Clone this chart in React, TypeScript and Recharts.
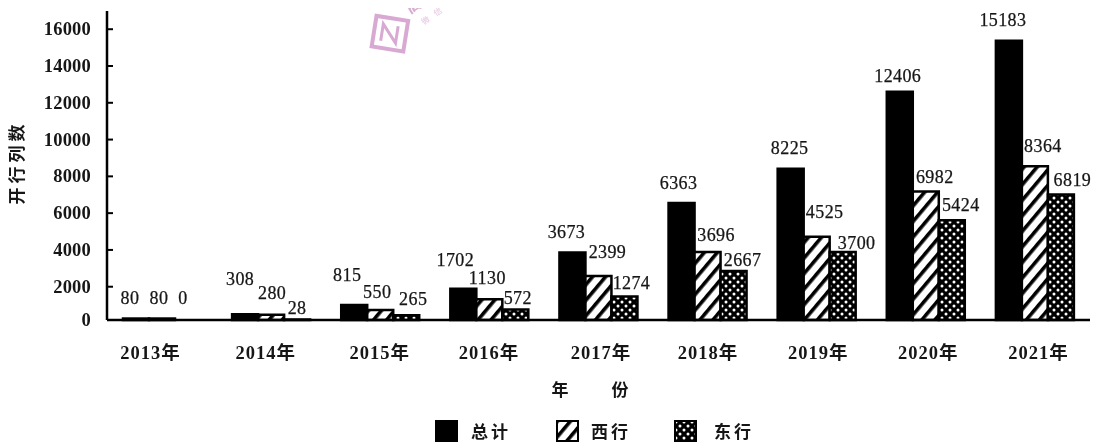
import React from 'react';
import { BarChart, Bar, Cell, XAxis, YAxis, Legend, LabelList } from 'recharts';

const YEARS = ['2013年', '2014年', '2015年', '2016年', '2017年', '2018年', '2019年', '2020年', '2021年'];
const TOTAL = [80, 308, 815, 1702, 3673, 6363, 8225, 12406, 15183];
const WEST = [80, 280, 550, 1130, 2399, 3696, 4525, 6982, 8364];
const EAST = [0, 28, 265, 572, 1274, 2667, 3700, 5424, 6819];
const Y_TICKS = [0, 2000, 4000, 6000, 8000, 10000, 12000, 14000, 16000];

const chartData = YEARS.map((year, i) => ({ year, total: TOTAL[i], west: WEST[i], east: EAST[i] }));

// the labels in the picture sit by hand, not in a neat row above each bar
const TOTAL_DX = [-6, -5, -7, -8, -6, -3, -1, -2, -6];
const TOTAL_DY = [-20.5, -35, -30, -29, -20.5, -20, -21, -16, -21];
const WEST_DX = [-3, 1, -3, -2, 9, 8.5, 8, 9, 8];
const WEST_DY = [-20.5, -22, -18, -21, -24, -17, -25, -15, -20];
const EAST_DX = [-5, 0, 7, 2.5, 7, 9, 14, 9, 11.5];
const EAST_DY = [-22, -11.5, -16, -11.5, -13.5, -11, -9, -15, -15];
const YEAR_DX = [-11, -5, 0, 0, 3, 1, 2, 3, 4];

const PLOT_LEFT = 107;
const SERIF = '"Liberation Serif", "Noto Sans CJK SC", serif';
const CJK = '"Noto Sans CJK SC", sans-serif';
const INK = '#161616';

const barLabel = (dxs: number[], dys: number[]) => (props: any) => {
  const { x, y, width, value, index } = props;
  return (
    <text
      x={Number(x) + Number(width) / 2 + dxs[index]}
      y={Number(y) + dys[index]}
      textAnchor="middle"
      dominantBaseline="central"
      fontFamily={SERIF}
      fontSize={18}
      letterSpacing={0.4}
      fill={INK}
      stroke={INK}
      strokeWidth={0.25}
    >
      {value}
    </text>
  );
};

const YTick = (props: any) => {
  const { y, payload } = props;
  // scan of the axis: tick marks sit a little below where the bars' scale puts them
  const shifted = payload.value > 0 ? y + 3.5 : y;
  return (
    <g>
      {payload.value > 0 && <line x1={PLOT_LEFT} x2={PLOT_LEFT + 6} y1={shifted} y2={shifted} stroke="#000" strokeWidth={2} />}
      <text x={91} y={shifted} textAnchor="end" dominantBaseline="central" fontFamily={SERIF} fontSize={18.5} fontWeight={700} letterSpacing={0.2} fill={INK}>
        {payload.value}
      </text>
    </g>
  );
};

const XTick = (props: any) => {
  const { x, payload, index } = props;
  return (
    <text x={x + YEAR_DX[index]} y={353} textAnchor="middle" dominantBaseline="central" fontFamily={SERIF} fontSize={18.5} fontWeight={700} letterSpacing={1} fill={INK}>
      {payload.value}
    </text>
  );
};

const LEGEND_ITEMS = [
  { name: '总计', fill: '#000', gap: 13, width: 121 },
  { name: '西行', fill: 'url(#hatch)', gap: 12, width: 118 },
  { name: '东行', fill: 'url(#dots)', gap: 17, width: 80 },
];

const LegendRow = () => (
  <div style={{ display: 'flex', alignItems: 'center', height: 22 }}>
    {LEGEND_ITEMS.map((item) => (
      <div key={item.name} style={{ display: 'flex', alignItems: 'center', width: item.width }}>
        <svg width={23} height={22} style={{ display: 'block' }}>
          <rect x={1} y={1} width={21} height={20} fill={item.fill} stroke="#000" strokeWidth={2} />
        </svg>
        <span style={{ marginLeft: item.gap, fontFamily: CJK, fontWeight: 700, fontSize: 17, letterSpacing: 3, lineHeight: '22px', color: INK }}>{item.name}</span>
      </div>
    ))}
  </div>
);

const Watermark = () => (
  <svg width={120} height={60} style={{ position: 'absolute', left: 360, top: 0 }}>
    <g transform="translate(-1 0) rotate(9 30 33)" fill="none" stroke="#d8a9d2" strokeWidth={4}>
      <rect x={15} y={18} width={32} height={31} />
      <path d="M23 42 V25 L38 42 V25" strokeWidth={3} />
    </g>
    <text x={0} y={0} transform="translate(64 25) rotate(-35)" fontFamily={CJK} fontSize={8} letterSpacing={7} fill="#e2bfdd">微信号</text>
    <text x={0} y={0} transform="translate(50 14) rotate(-32)" fontFamily={CJK} fontSize={16} fontWeight={700} fill="#d8a9d2">高</text>
  </svg>
);

// a zero bar gets dropped along with its label unless it has some height
const keepZero = (value: any) => (value === 0 ? 0.01 : 0);

const App: React.FC = () => {
  return (
    <div style={{ position: 'relative', width: 1103, height: 445, marginTop: -8, marginLeft: -8, background: '#fff', filter: 'blur(0.5px)', overflow: 'hidden' }}>
      <Watermark />
      <BarChart
        width={1103}
        height={445}
        data={chartData}
        margin={{ top: 11, right: 13, bottom: 55, left: 0 }}
        barCategoryGap={16}
        barGap={0}
        style={{ background: 'transparent' }}
      >
        <defs>
          <pattern id="hatch" width={10} height={10} patternUnits="userSpaceOnUse" patternTransform="rotate(40)">
            <rect width={10} height={10} fill="#fff" />
            <rect width={3.6} height={10} fill="#000" />
          </pattern>
          <pattern id="dots" width={8} height={8} patternUnits="userSpaceOnUse">
            <rect width={8} height={8} fill="#000" />
            <circle cx={2} cy={2} r={1.5} fill="#fff" />
            <circle cx={6} cy={6} r={1.5} fill="#fff" />
          </pattern>
        </defs>
        <XAxis
          dataKey="year"
          height={70}
          interval={0}
          padding={{ left: 0, right: 1 }}
          axisLine={{ stroke: '#000', strokeWidth: 2.5 }}
          tickLine={false}
          tick={<XTick />}
          label={{
            value: '年\u3000\u3000份',
            position: 'insideBottom',
            offset: 0,
            dx: -7,
            dy: 6,
            style: { fontFamily: CJK, fontWeight: 700, fontSize: 17, letterSpacing: 3, fill: INK },
          }}
        />
        <YAxis
          width={PLOT_LEFT}
          domain={[0, 16800]}
          ticks={Y_TICKS}
          interval={0}
          axisLine={{ stroke: '#000', strokeWidth: 2.5 }}
          tickLine={false}
          tick={<YTick />}
          label={{
            value: '开行列数',
            angle: -90,
            position: 'insideLeft',
            offset: 17,
            dy: -3,
            style: { textAnchor: 'middle', fontFamily: CJK, fontWeight: 700, fontSize: 17, letterSpacing: 4, fill: INK },
          }}
        />
        <Legend
          verticalAlign="middle"
          layout="horizontal"
          content={<LegendRow />}
          wrapperStyle={{ top: 420, left: 435, width: 330, bottom: 'auto' }}
        />
        <Bar dataKey="total" name="总计" fill="#000" stroke="#000" strokeWidth={2.5} isAnimationActive={false}>
          <LabelList dataKey="total" content={barLabel(TOTAL_DX, TOTAL_DY)} />
        </Bar>
        <Bar dataKey="west" name="西行" fill="url(#hatch)" stroke="#000" strokeWidth={2.5} isAnimationActive={false}>
          <LabelList dataKey="west" content={barLabel(WEST_DX, WEST_DY)} />
        </Bar>
        <Bar dataKey="east" name="东行" fill="url(#dots)" stroke="#000" strokeWidth={2.5} minPointSize={keepZero} isAnimationActive={false}>
          {EAST.map((v, i) => (
            <Cell key={i} stroke={v === 0 ? 'none' : '#000'} />
          ))}
          <LabelList dataKey="east" content={barLabel(EAST_DX, EAST_DY)} />
        </Bar>
      </BarChart>
    </div>
  );
};

export default App;
